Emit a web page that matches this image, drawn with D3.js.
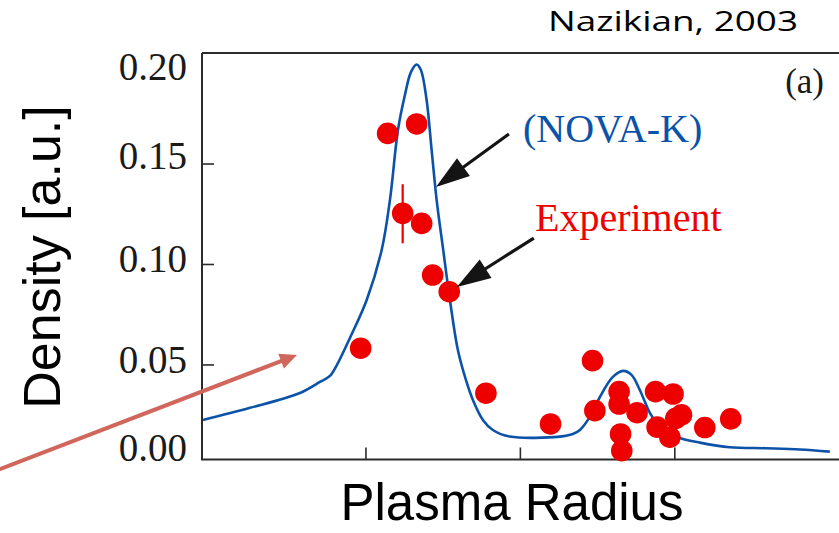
<!DOCTYPE html>
<html>
<head>
<meta charset="utf-8">
<script src="https://cdn.jsdelivr.net/npm/d3@7"></script>
<style>
  html, body { margin: 0; padding: 0; background: #fff; }
  svg { display: block; }
</style>
</head>
<body>
<div id="chart"></div>
<script>
// ---------------- DATA ----------------
// NOVA-K simulated density profile (x = normalized plasma radius, y = density a.u.)
const novaX = [0.1896, 0.2505, 0.3152, 0.3411, 0.354, 0.3631, 0.3799, 0.4016, 0.421, 0.4317, 0.4421, 0.4511, 0.4589, 0.4663, 0.4718, 0.4792, 0.4857, 0.4922, 0.5007, 0.5094, 0.5197, 0.5301, 0.5392, 0.5521, 0.565, 0.587, 0.6518, 0.6686, 0.6777, 0.6906, 0.7036, 0.7204, 0.7337, 0.7446, 0.7553, 0.7683, 0.777, 0.7877, 0.8071, 0.833, 0.8718, 0.9194, 0.9626, 1.0014];
const novaY = [0.0224, 0.0284, 0.0358, 0.0413, 0.0443, 0.0498, 0.0632, 0.0821, 0.107, 0.1318, 0.1667, 0.1841, 0.1955, 0.1993, 0.1965, 0.1816, 0.1567, 0.1318, 0.107, 0.0821, 0.0572, 0.0423, 0.0323, 0.0224, 0.0174, 0.0141, 0.0141, 0.0154, 0.0174, 0.0239, 0.0338, 0.0438, 0.0468, 0.0448, 0.0373, 0.0259, 0.0209, 0.0169, 0.0134, 0.0111, 0.0088, 0.0083, 0.0077, 0.0066];

// Experimental points
const expX = [0.3938, 0.4287, 0.4663, 0.4482, 0.4728, 0.487, 0.5085, 0.556, 0.6397, 0.6941, 0.6971, 0.7285, 0.7285, 0.7518, 0.7304, 0.732, 0.7757, 0.7984, 0.7777, 0.7942, 0.8019, 0.8093, 0.8395, 0.8731];
const expY = [0.0581, 0.165, 0.1697, 0.1252, 0.1202, 0.0945, 0.0862, 0.0357, 0.0204, 0.0519, 0.027, 0.0365, 0.0303, 0.026, 0.0154, 0.0071, 0.0365, 0.0353, 0.0188, 0.0138, 0.0232, 0.0249, 0.0186, 0.0229];
// error bar (on one point)
const errX = [0.4482];
const errLow = [0.1103];
const errHigh = [0.1397];

// ticks
const yTicks = [0, 0.05, 0.10, 0.15, 0.20];
const yTickLabels = ["0.00", "0.05", "0.10", "0.15", "0.20"];
const xTicks = [0.4, 0.6, 0.8];

// texts
const yTitle = "Density [a.u.]";
const xTitle = "Plasma Radius";
const sourceText = "Nazikian, 2003";
const panelText = "(a)";
const novaLabel = "(NOVA-K)";
const expLabel = "Experiment";

// ---------------- CHART ----------------
const W = 839, H = 533;
const svg = d3.select("#chart").append("svg").attr("width", W).attr("height", H);
svg.append("rect").attr("width", W).attr("height", H).attr("fill", "#fff");

const pLeft = 202, pRight = 839, pTop = 53, pBottom = 459.5;
const x = d3.scaleLinear().domain([0.1883, 1.0133]).range([pLeft, pRight]);
const y = d3.scaleLinear().domain([0.0027, 0.205]).range([pBottom, pTop]);

const frameColor = "#2b2b2b";
// small vertical nudges of the tick labels (as typeset in the original figure)
const labelNudge = [-17, -4, -4.5, -8, 4];

// y tick marks (inward) and labels
const yAxis = d3.axisLeft(y).tickValues(yTicks)
  .tickFormat((d, i) => yTickLabels[i])
  .tickSizeInner(-12).tickSizeOuter(0).tickPadding(15);
const gy = svg.append("g").attr("transform", `translate(${pLeft},0)`).call(yAxis);
gy.select(".domain").remove();
gy.selectAll(".tick line").attr("stroke", frameColor).attr("stroke-width", 1.6)
  .attr("display", d => (d === 0 || d === 0.20) ? "none" : null);
gy.selectAll(".tick text")
  .attr("font-family", "'Liberation Serif', 'Times New Roman', serif")
  .attr("font-size", 39).attr("fill", "#1a1a1a")
  .attr("y", (d, i) => labelNudge[i]);

// x tick marks (inward, no labels)
const xAxis = d3.axisBottom(x).tickValues(xTicks).tickFormat("")
  .tickSizeInner(-12).tickSizeOuter(0);
const gx = svg.append("g").attr("transform", `translate(0,${pBottom})`).call(xAxis);
gx.select(".domain").remove();
gx.selectAll(".tick line").attr("stroke", frameColor).attr("stroke-width", 1.6);

// frame
svg.append("path")
  .attr("d", `M${pLeft},${pTop}H${pRight}M${pLeft},${pTop}V${pBottom}H${pRight}`)
  .attr("fill", "none").attr("stroke", frameColor).attr("stroke-width", 2);

// NOVA-K curve
const line = d3.line().x(d => x(d[0])).y(d => y(d[1])).curve(d3.curveCatmullRom.alpha(0.5));
svg.append("path")
  .datum(novaX.map((v, i) => [v, novaY[i]]))
  .attr("d", line)
  .attr("fill", "none").attr("stroke", "#0b52a8").attr("stroke-width", 2.6);

// error bar
svg.selectAll(".err").data(errX).enter().append("line")
  .attr("x1", d => x(d)).attr("x2", d => x(d))
  .attr("y1", (d, i) => y(errLow[i])).attr("y2", (d, i) => y(errHigh[i]))
  .attr("stroke", "#ee0000").attr("stroke-width", 2.2);

// experimental dots
svg.selectAll(".dot").data(expX).enter().append("circle")
  .attr("cx", d => x(d)).attr("cy", (d, i) => y(expY[i]))
  .attr("r", 10.8).attr("fill", "#ee0000");

// arrows
function arrow(x1, y1, x2, y2, color, sw, headLen, headHalf) {
  const dx = x2 - x1, dy = y2 - y1, L = Math.hypot(dx, dy);
  const ux = dx / L, uy = dy / L;
  const bx = x2 - ux * headLen, by = y2 - uy * headLen;
  svg.append("line").attr("x1", x1).attr("y1", y1)
    .attr("x2", bx + ux * 2).attr("y2", by + uy * 2)
    .attr("stroke", color).attr("stroke-width", sw);
  svg.append("polygon")
    .attr("points", [[x2, y2], [bx - uy * headHalf, by + ux * headHalf], [bx + uy * headHalf, by - ux * headHalf]].map(p => p.join(",")).join(" "))
    .attr("fill", color);
}
// NOVA-K arrow
arrow(x(0.5858), y(0.1647), x(0.4913), y(0.1383), "#141414", 3.2, 34, 11);
// Experiment arrow
arrow(x(0.6181), y(0.1129), x(0.5184), y(0.0886), "#141414", 3.2, 34, 11);
// salmon arrow from outside
arrow(x(-0.10), y(-0.0060), x(0.3113), y(0.0547), "#d0665c", 4, 17, 8);

// annotation texts
svg.append("text").attr("x", 523).attr("y", 142)
  .attr("font-family", "'Liberation Serif', 'Times New Roman', serif")
  .attr("font-size", 40).attr("fill", "#0b52a8").text(novaLabel);
svg.append("text").attr("x", 535).attr("y", 231)
  .attr("font-family", "'Liberation Serif', 'Times New Roman', serif")
  .attr("font-size", 40).attr("fill", "#ee0000").text(expLabel);
svg.append("text").attr("x", 824).attr("y", 93).attr("text-anchor", "end")
  .attr("font-family", "'Liberation Serif', 'Times New Roman', serif")
  .attr("font-size", 35).attr("fill", "#1a1a1a").text(panelText);

// source text
svg.append("text").attr("x", 548).attr("y", 31)
  .attr("font-family", "'Open Sans', Lato, sans-serif")
  .attr("font-size", 28).attr("fill", "#000")
  .attr("textLength", 250).attr("lengthAdjust", "spacingAndGlyphs")
  .text(sourceText);

// axis titles
svg.append("text").attr("transform", "translate(60,257) rotate(-90)")
  .attr("text-anchor", "middle")
  .attr("font-family", "'Liberation Sans', Arial, sans-serif")
  .attr("font-size", 52).attr("fill", "#000").text(yTitle);
svg.append("text").attr("x", 512).attr("y", 520)
  .attr("text-anchor", "middle")
  .attr("font-family", "'Liberation Sans', Arial, sans-serif")
  .attr("font-size", 51).attr("fill", "#000").text(xTitle);
</script>
</body>
</html>
